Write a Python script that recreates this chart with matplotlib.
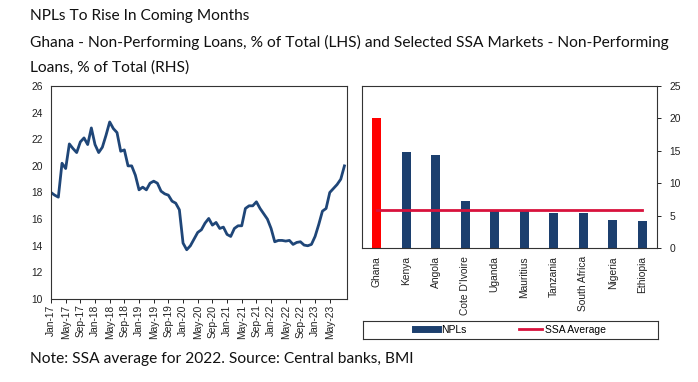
import matplotlib.pyplot as plt
import numpy as np
from matplotlib.lines import Line2D

# Ghana NPL ratio, monthly Jan-17 .. Sep-23 (% of total loans)
ghana_npl = [18.0, 17.8, 17.65, 20.2, 19.8, 21.65, 21.3, 21.0, 21.8, 22.1,
             21.6, 22.85, 21.6, 21.0, 21.4, 22.3, 23.3, 22.8, 22.5, 21.1,
             21.2, 20.0, 20.0, 19.3, 18.2, 18.4, 18.2, 18.7, 18.85, 18.7,
             18.1, 17.9, 17.8, 17.35, 17.2, 16.7, 14.2, 13.7, 14.0, 14.5,
             15.0, 15.2, 15.7, 16.05, 15.55, 15.75, 15.3, 15.4, 14.85, 14.7,
             15.3, 15.5, 15.5, 16.8, 17.0, 17.0, 17.3, 16.8, 16.4, 16.0,
             15.3, 14.3, 14.4, 14.4, 14.35, 14.4, 14.1, 14.25, 14.3, 14.05,
             14.0, 14.1, 14.7, 15.6, 16.6, 16.8, 18.0, 18.3, 18.6, 19.0, 20.0]
month_labels = ["Jan-17", "May-17", "Sep-17", "Jan-18", "May-18", "Sep-18",
                "Jan-19", "May-19", "Sep-19", "Jan-20", "May-20", "Sep-20",
                "Jan-21", "May-21", "Sep-21", "Jan-22", "May-22", "Sep-22",
                "Jan-23", "May-23"]

countries = ["Ghana", "Kenya", "Angola", "Cote D'Ivoire", "Uganda", "Mauritius",
             "Tanzania", "South Africa", "Nigeria", "Ethiopia"]
npls = [20.0, 14.8, 14.4, 7.2, 5.9, 5.8, 5.45, 5.45, 4.35, 4.15]
ssa_avg = 5.8

W, H = 698, 382
fig = plt.figure(figsize=(W / 100, H / 100), dpi=100)

TXT = dict(family="Lato", color="#111111", fontsize=11.2)
fig.text(30 / W, 1 - 20 / H, "NPLs To Rise In Coming Months", **TXT)
fig.text(30 / W, 1 - 47 / H,
         "Ghana - Non-Performing Loans, % of Total (LHS) and Selected SSA Markets - Non-Performing",
         **TXT)
fig.text(30 / W, 1 - 72 / H, "Loans, % of Total (RHS)", **TXT)
fig.text(30 / W, 1 - 363 / H, "Note: SSA average for 2022. Source: Central banks, BMI", **TXT)

TICK = dict(family="Liberation Sans", fontsize=7.4, color="#222222")

# left panel: Ghana line
ax1 = fig.add_axes([51 / W, 1 - 299 / H, 296 / W, 213 / H])
x = np.arange(len(ghana_npl))
ax1.plot(x, ghana_npl, color="#1F4678", lw=2.0, solid_joinstyle="round")
ax1.set_xlim(0, 80.7)
ax1.set_ylim(10, 26)
ax1.set_yticks(np.arange(10, 27, 2))
ax1.set_xticks(np.arange(0, len(month_labels) * 4, 4))
ax1.set_xticklabels(month_labels, rotation=90)
for lab in ax1.get_xticklabels() + ax1.get_yticklabels():
    lab.set(**TICK)
ax1.tick_params(axis="x", length=3, width=0.6, pad=1)
ax1.tick_params(axis="y", length=0, pad=6)
for s in ax1.spines.values():
    s.set_linewidth(0.8)
    s.set_color("#333333")

# right panel: SSA bars
ax2 = fig.add_axes([362 / W, 1 - 248 / H, 295 / W, 162 / H])
xb = np.arange(len(countries))
colors = ["#FF0000"] + ["#1C3F6E"] * (len(countries) - 1)
ax2.bar(xb, npls, width=0.31, color=colors)
ax2.plot([xb[0], xb[-1]], [ssa_avg, ssa_avg], color="#D8123C", lw=2.0)
ax2.set_xlim(-0.5, len(countries) - 0.5)
ax2.set_ylim(0, 25)
ax2.set_yticks(np.arange(0, 26, 5))
ax2.yaxis.tick_right()
ax2.set_xticks(xb)
ax2.set_xticklabels(countries, rotation=90)
for lab in ax2.get_xticklabels() + ax2.get_yticklabels():
    lab.set(**TICK)
ax2.tick_params(axis="x", length=0, pad=6)
ax2.tick_params(axis="y", length=3, width=0.6, pad=6)
for s in ax2.spines.values():
    s.set_linewidth(0.8)
    s.set_color("#333333")

# legend box under right panel
lax = fig.add_axes([363 / W, 1 - 339 / H, 295 / W, 18 / H])
lax.set_xticks([])
lax.set_yticks([])
for s in lax.spines.values():
    s.set_linewidth(0.8)
    s.set_color("#333333")
handles = [Line2D([], [], color="#1C3F6E", lw=5), Line2D([], [], color="#D8123C", lw=2)]
leg = lax.legend(handles, ["NPLs", "SSA Average"], loc="center", ncol=2, frameon=False,
                 handlelength=2.2, columnspacing=5.0, handletextpad=0.3,
                 prop={"family": "Liberation Sans", "size": 7.5})

fig.savefig("out.png", dpi=100)
